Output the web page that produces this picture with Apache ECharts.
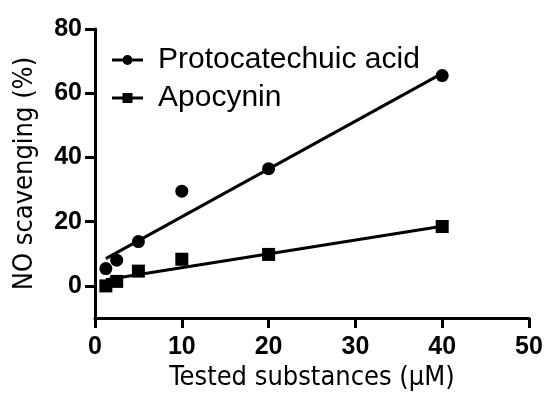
<!DOCTYPE html>
<html>
<head>
<meta charset="utf-8">
<script src="https://cdn.jsdelivr.net/npm/echarts@6/dist/echarts.min.js"></script>
<style>
  html, body { margin: 0; padding: 0; background: #fff; }
  #chart { width: 550px; height: 410px; }
</style>
</head>
<body>
<div id="chart"></div>
<script>
    // data
    const concentrations = [1.25, 2.5, 5, 10, 20, 40];
    const protocatechuic = [5.4, 8.0, 13.8, 29.5, 36.5, 65.5];
    const apocynin = [0.0, 1.4, 4.6, 8.3, 9.8, 18.5];

    // regression line ends, as drawn
    const fitX = [1.25, 40];
    const protocatechuicFit = [8.5, 66.2];
    const apocyninFit = [1.9, 18.6];

    const yTicks = [0, 20, 40, 60, 80];
    const seriesNames = ['Protocatechuic acid', 'Apocynin'];

    const pairs = function (xs, ys) {
        let out = [];
        for (let i = 0; i < xs.length; i++) {
            out.push([xs[i], ys[i]]);
        }
        return out;
    };

    // legend icons: line with marker in the middle
    const circleIcon = 'path://M0,3.5h10.5v3H0z M20.5,3.5H31v3H20.5z M10.5,5a5,5 0 1,0 10,0a5,5 0 1,0 -10,0z';
    const squareIcon = 'path://M0,3.5h10.5v3H0z M20.5,3.5H31v3H20.5z M10.5,0h10v10h-10z';

    const tickFont = {
        color: '#000',
        fontFamily: 'Liberation Sans, Arial, sans-serif',
        fontWeight: 'bold',
        fontSize: 25
    };
    const nameFont = {
        color: '#000',
        fontFamily: 'DejaVu Sans Condensed, DejaVu Sans, sans-serif',
        fontSize: 27
    };

    const chart = echarts.init(document.getElementById('chart'));

    const option = {
        animation: false,
        backgroundColor: '#fff',
        grid: {
            left: 95,
            right: 21,
            top: 29,
            bottom: 92,
            containLabel: false
        },
        legend: {
            orient: 'vertical',
            left: 107,
            top: 40,
            itemWidth: 31,
            itemHeight: 10,
            itemGap: 8,
            textStyle: {
                color: '#000',
                fontFamily: 'Liberation Sans, Arial, sans-serif',
                fontSize: 30,
                lineHeight: 30,
                padding: [0, 0, 0, 10]
            },
            data: [
                { name: seriesNames[0], icon: circleIcon },
                { name: seriesNames[1], icon: squareIcon }
            ]
        },
        xAxis: {
            type: 'value',
            min: 0,
            max: 50,
            interval: 10,
            name: 'Tested substances (μM)',
            nameLocation: 'middle',
            nameGap: 40,
            nameTextStyle: nameFont,
            splitLine: { show: false },
            axisLine: { onZero: false, lineStyle: { color: '#000', width: 3 } },
            axisTick: { show: true, length: 10, lineStyle: { color: '#000', width: 3 } },
            axisLabel: Object.assign({ margin: 17 }, tickFont)
        },
        yAxis: {
            type: 'value',
            min: -10,
            max: 80,
            name: 'NO scavenging (%)',
            nameLocation: 'middle',
            nameGap: 57,
            nameTextStyle: nameFont,
            splitLine: { show: false },
            axisLine: { show: true, onZero: false, lineStyle: { color: '#000', width: 3 } },
            axisTick: { show: true, length: 10, customValues: yTicks, lineStyle: { color: '#000', width: 3 } },
            axisLabel: Object.assign({ margin: 13, customValues: yTicks }, tickFont)
        },
        series: [
            {
                name: seriesNames[0],
                type: 'scatter',
                symbol: 'circle',
                symbolSize: 13,
                itemStyle: { color: '#000', opacity: 1 },
                data: pairs(concentrations, protocatechuic),
                z: 3
            },
            {
                name: seriesNames[1],
                type: 'scatter',
                symbol: 'rect',
                symbolSize: 13,
                itemStyle: { color: '#000', opacity: 1 },
                data: pairs(concentrations, apocynin),
                z: 3
            },
            {
                name: 'fit1',
                type: 'line',
                showSymbol: false,
                symbol: 'none',
                silent: true,
                lineStyle: { color: '#000', width: 3 },
                data: pairs(fitX, protocatechuicFit)
            },
            {
                name: 'fit2',
                type: 'line',
                showSymbol: false,
                symbol: 'none',
                silent: true,
                lineStyle: { color: '#000', width: 3 },
                data: pairs(fitX, apocyninFit)
            }
        ]
    };

    chart.setOption(option);

    window.addEventListener('resize', function () {
        chart.resize();
    });
</script>
</body>
</html>
